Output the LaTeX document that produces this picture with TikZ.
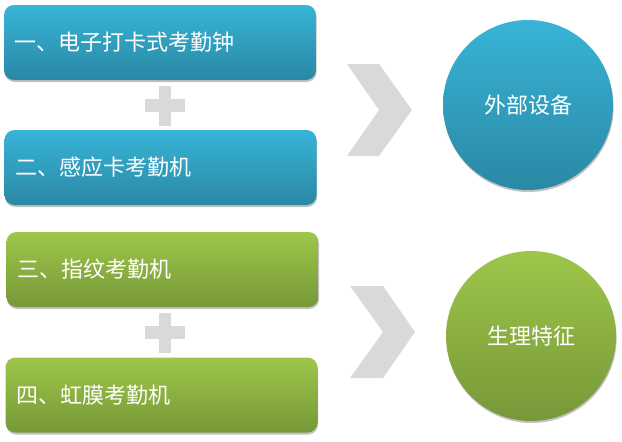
\documentclass[tikz,border=0pt]{standalone}
\usepackage{fontspec}
\newfontfamily\cjk{Noto Sans CJK SC}
\usetikzlibrary{shadows}
\definecolor{bluetop}{HTML}{38B4D7}
\definecolor{bluebot}{HTML}{2A88A4}
\definecolor{greentop}{HTML}{9EC64A}
\definecolor{greenbot}{HTML}{769838}
\definecolor{plusgray}{HTML}{D9D9D9}
\begin{document}
\begin{tikzpicture}[x=1pt,y=-1pt,
  softshadow/.style={drop shadow={shadow xshift=0.6pt,shadow yshift=-2pt,opacity=0.35,fill=black!70}},
  itembox/.style={rectangle,rounded corners=10pt,minimum width=312pt,minimum height=75pt,
    inner xsep=11pt,text width=290pt,align=left,text=white,
    font=\cjk\fontsize{22}{26}\selectfont,softshadow},
  bluebox/.style={itembox,top color=bluetop,bottom color=bluebot},
  greenbox/.style={itembox,top color=greentop,bottom color=greenbot},
  ring/.style={circle,minimum size=170pt,inner sep=0pt,text=white,
    font=\cjk\fontsize{22}{26}\selectfont,softshadow},
  graymark/.style={fill=plusgray,draw=none}]
\useasboundingbox (0,0) rectangle (622,442);
% boxes
\node[bluebox] (b1) at (160,42.5) {一、电子打卡式考勤钟};
\node[bluebox] (b2) at (160.5,167.5) {二、感应卡考勤机};
\node[greenbox] (b3) at (162.5,269.5) {三、指纹考勤机};
\node[greenbox] (b4) at (161.5,395) {四、虹膜考勤机};
% plus signs
\fill[graymark] (145,99) rectangle (185,112);
\fill[graymark] (159,86) rectangle (171,126);
\fill[graymark] (145,326) rectangle (185,339);
\fill[graymark] (159,313) rectangle (171,353);
% chevrons
\fill[graymark] (347,64) -- (379,64) -- (412,110) -- (379,156) -- (347,156) -- (379,110) -- cycle;
\fill[graymark] (350,286) -- (383,286) -- (415,332) -- (383,378) -- (350,378) -- (383,332) -- cycle;
% circles
\node[ring,top color=bluetop,bottom color=bluebot] (c1) at (528,105) {外部设备};
\node[ring,top color=greentop,bottom color=greenbot] (c2) at (531,336) {生理特征};
\end{tikzpicture}
\end{document}
